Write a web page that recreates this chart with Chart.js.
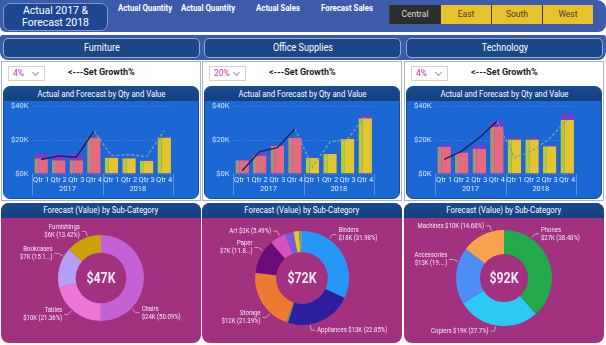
<!DOCTYPE html>
<html>
<head>
<meta charset="utf-8">
<script src="https://cdn.jsdelivr.net/npm/chart.js@4.4.1/dist/chart.umd.min.js"></script>
<style>
  body { margin: 0; width: 606px; height: 345px; background: #fff; overflow: hidden; position: relative;
         font-family: Roboto, "Open Sans", sans-serif; }
  .abs { position: absolute; box-sizing: border-box; }
  .cond { display: inline-block; transform: scaleX(0.86); white-space: nowrap; }
  #top { left: 0; top: 0; width: 606px; height: 32px; background: #3c5cab; border-radius: 0 9px 8px 6px; }
  #title { left: 3px; top: 3px; width: 105px; height: 28px; background: #1d4891; border: 1px solid #7d98cc;
           border-radius: 7px; color: #fff; font-size: 10.5px; line-height: 12px; text-align: center; padding-top: 1px; }
  .hlab { top: 3px; color: #fff; font-size: 8.5px; font-weight: bold; transform: translateX(-50%) scaleX(0.92); white-space: nowrap; }
  #slicer { left: 389px; top: 5px; height: 19px; display: flex; }
  #slicer div { width: 51px; height: 19px; line-height: 19px; text-align: center; font-size: 8.5px;
                background: #e6c22d; color: #4a4020; border-left: 1px solid #3a3a3a; box-sizing: border-box; }
  #slicer div.on { background: #2d2d2d; color: #ddd; }
  #band { left: 0; top: 35px; width: 606px; height: 25px; background: #3c5cab; border-radius: 3px 3px 8px 8px; }
  .cat { top: 38px; height: 20px; background: #1c4787; border: 1px solid #91a8d3; border-radius: 5px;
         color: #fff; font-size: 10.5px; line-height: 18px; text-align: center; }
  .panel { top: 61px; height: 140px; border: 1px solid #a7b2c6; background: #fff; }
  .pick { top: 66px; width: 37px; height: 15px; border: 1px solid #d3d3d3; color: #c8329b; font-size: 8.5px;
          line-height: 13px; padding-left: 4px; }
  .pick i { position: absolute; right: 6px; top: 3px; width: 4px; height: 4px; border-right: 1px solid #999;
            border-bottom: 1px solid #999; transform: rotate(45deg); }
  .hint { top: 67px; color: #222; font-size: 9px; font-weight: bold; white-space: nowrap; }
  .card { top: 86px; width: 196px; height: 113px; background: #1b67d3; border: 1px solid #1b4a93;
          border-radius: 7px; overflow: hidden; }
  .card .bar, .dn .bar { position: relative; z-index: 0; height: 14px; background: linear-gradient(#1a4a8e, #14407f);
          color: #fff; font-size: 9px; line-height: 14px; text-align: center; }
  .card canvas { position: relative; z-index: 1; margin-top: -3px; }
  .dn { top: 203px; width: 200px; height: 140px; background: #a2317f; border-radius: 8px; overflow: hidden; }
  .dn .bar { height: 15px; line-height: 15px; }
  canvas { display: block; }
</style>
</head>
<body>
<div id="top" class="abs"></div>
<div id="title" class="abs">Actual 2017 &amp;<br>Forecast 2018</div>
<div id="slicer" class="abs"></div>
<div id="band" class="abs"></div>

<script>
const headerLabels = ['Actual Quantity', 'Actual Quantity', 'Actual Sales', 'Forecast Sales'];
const regions = ['Central', 'East', 'South', 'West'];
const categories = ['Furniture', 'Office Supplies', 'Technology'];
const growthPicks = ['4%', '20%', '4%'];
const quarters = ['Qtr 1', 'Qtr 2', 'Qtr 3', 'Qtr 4', 'Qtr 1', 'Qtr 2', 'Qtr 3', 'Qtr 4'];
const years = ['2017', '2018'];

// quarterly sales in $K: 2017 actual, 2018 forecast
const furnitureSales = [9.4, 8.1, 8.1, 21.6, 9.6, 9.4, 7.9, 21.6];
const furnitureValue = [12.0, 11.6, 11.6, 21.8, 9.8, 9.6, 8.1, 21.8];
const furnitureQty2017 = [8.6, 10.7, 10.0, 25.4];
const furnitureQty2018 = [10.9, 11.5, 10.3, 25.5];

const officeSales = [8.2, 10.9, 16.6, 21.5, 9.5, 11.8, 20.8, 33.0];
const officeValue = [8.4, 12.4, 17.0, 21.7, 9.8, 12.0, 21.0, 34.7];
const officeQty2017 = [1.9, 13.3, 15.6, 26.7];
const officeQty2018 = [4.2, 19.0, 20.6, 34.3];

const techSales = [16.2, 12.7, 15.0, 27.9, 20.4, 20.4, 16.5, 32.1];
const techValue = [17.1, 13.0, 17.1, 31.2, 21.5, 21.5, 16.8, 35.4];
const techQty2017 = [8.7, 13.5, 21.5, 31.2];
const techQty2018 = [9.6, 13.8, 21.0, 32.1];

// forecast value by sub-category: share %, $K
const furnitureSubs = ['Chairs', 'Tables', 'Bookcases', 'Furnishings'];
const furnitureShare = [50.09, 21.36, 15.13, 13.42];
const furnitureSubK = [24, 10, 7, 6];

const officeSubs = ['Binders', 'Appliances', 'Fasteners', 'Storage', 'Paper', 'Art', 'Supplies', 'Envelopes', 'Labels'];
const officeShare = [31.98, 22.85, 0.55, 21.39, 11.84, 5.49, 3.0, 1.9, 1.0];
const officeSubK = [18, 13, 0.3, 12, 7, 3, 1.7, 1.1, 0.6];

const techSubs = ['Phones', 'Copiers', 'Accessories', 'Machines'];
const techShare = [38.48, 27.7, 19.14, 14.68];
const techSubK = [27, 19, 13, 10];

const forecastTotals = ['$47K', '$72K', '$92K'];

// ---------- static frame ----------
const headerX = [145, 208, 278, 347];
headerLabels.forEach((t, i) => {
  const d = document.createElement('div');
  d.className = 'abs hlab'; d.style.left = headerX[i] + 'px'; d.textContent = t;
  document.body.appendChild(d);
});
const slicer = document.getElementById('slicer');
regions.forEach((r, i) => {
  const d = document.createElement('div');
  if (i === 0) d.className = 'on';
  d.textContent = r;
  slicer.appendChild(d);
});

const colLeft = [1, 202, 404];
const colWidth = [200, 200, 200];
categories.forEach((c, i) => {
  const x = colLeft[i];
  document.body.insertAdjacentHTML('beforeend', `
    <div class="abs cat" style="left:${x + 2}px;width:${colWidth[i] - 3}px"><span class="cond">${c}</span></div>
    <div class="abs panel" style="left:${x}px;width:${colWidth[i]}px"></div>
    <div class="abs pick" style="left:${x + 7}px">${growthPicks[i]}<i></i></div>
    <div class="abs hint" style="left:${x + 67}px">&lt;---Set Growth%</div>
    <div class="abs card" style="left:${x + 2}px">
      <div class="bar"><span class="cond">Actual and Forecast by Qty and Value</span></div>
      <canvas id="q${i}" width="194" height="101"></canvas>
    </div>
    <div class="abs dn" style="left:${x}px">
      <div class="bar"><span class="cond">Forecast (Value) by Sub-Category</span></div>
      <canvas id="d${i}" width="200" height="125"></canvas>
    </div>`);
});

// ---------- charts ----------
const FONT = 'Roboto, "Open Sans", sans-serif';
Chart.defaults.font.family = FONT;
Chart.defaults.animation = false;

const yearDividers = {
  id: 'yearDividers',
  afterDraw(chart) {
    const x = chart.scales.x, ctx = chart.ctx;
    const mid = (x.getPixelForValue(3) + x.getPixelForValue(4)) / 2;
    ctx.save();
    ctx.strokeStyle = 'rgba(255,255,255,0.28)';
    ctx.lineWidth = 1;
    [x.left, mid, x.right].forEach(px => {
      ctx.beginPath();
      ctx.moveTo(Math.round(px) + 0.5, chart.chartArea.bottom);
      ctx.lineTo(Math.round(px) + 0.5, chart.height - 4);
      ctx.stroke();
    });
    ctx.restore();
  }
};

function quarterChart(id, sales, value, qty17, qty18) {
  const fill = sales.map((v, i) => i < 4 ? '#e56a80' : '#e2c630');
  const edge = sales.map((v, i) => i < 4 ? '#a8907a' : '#a9cf3c');
  const solid = qty17.concat([null, null, null, null]);
  const dashed = [null, null, null, qty17[3]].concat(qty18);
  return new Chart(document.getElementById(id), {
    data: {
      labels: quarters,
      datasets: [
        { type: 'line', data: solid, borderColor: '#1b1f5c', borderWidth: 1.5, pointRadius: 0, order: 0 },
        { type: 'line', data: dashed, borderColor: '#7aa59c', borderWidth: 1.3, borderDash: [3, 2], pointRadius: 0, order: 0 },
        { type: 'bar', data: sales, backgroundColor: fill, borderColor: edge,
          borderWidth: { left: 4, right: 0, top: 0, bottom: 0 }, borderSkipped: false,
          grouped: false, categoryPercentage: 0.8, barPercentage: 0.96, order: 1 },
        { type: 'bar', data: value, backgroundColor: '#7a3ccc',
          grouped: false, categoryPercentage: 0.8, barPercentage: 0.96, order: 2 }
      ]
    },
    options: {
      responsive: false,
      layout: { padding: { left: 3, right: 25, top: 0, bottom: 6 } },
      plugins: { legend: { display: false }, tooltip: { enabled: false } },
      scales: {
        x: {
          ticks: { color: '#e4ecff', font: { size: 7.5 }, padding: 2, maxRotation: 0, autoSkip: false },
          grid: { display: false, drawTicks: false }, border: { display: false },
          afterFit: s => { s.height = 9; }
        },
        x2: {
          type: 'category', labels: years, position: 'bottom', offset: true,
          ticks: { color: '#e4ecff', font: { size: 7.5 }, padding: 2, autoSkip: false },
          grid: { display: false, drawTicks: false }, border: { display: false },
          afterFit: s => { s.height = 10; }
        },
        y: {
          min: 0, max: 40,
          ticks: { stepSize: 20, color: '#d8e4ff', font: { size: 7.5 }, padding: 4, callback: v => '$' + v + 'K' },
          grid: { color: 'rgba(255,255,255,0.22)', drawTicks: false },
          border: { display: false, dash: [1, 2] }
        }
      }
    },
    plugins: [yearDividers]
  });
}

quarterChart('q0', furnitureSales, furnitureValue, furnitureQty2017, furnitureQty2018);
quarterChart('q1', officeSales, officeValue, officeQty2017, officeQty2018);
quarterChart('q2', techSales, techValue, techQty2017, techQty2018);

// narrow text: squeeze horizontally around the anchor point
function squeezeText(ctx, t, x, y, k) {
  ctx.save();
  ctx.translate(x, y);
  ctx.scale(k, 1);
  ctx.fillText(t, 0, 0);
  ctx.restore();
}

// leader-line labels and the total in the hole
function donutLabels(center, items) {
  return {
    id: 'donutLabels',
    afterDatasetsDraw(chart) {
      const arcs = chart.getDatasetMeta(0).data;
      const cx = arcs[0].x, cy = arcs[0].y, R = arcs[0].outerRadius;
      const ctx = chart.ctx;
      ctx.save();
      ctx.fillStyle = '#f7e9f4';
      ctx.textAlign = 'center'; ctx.textBaseline = 'middle';
      ctx.font = 'bold 14px ' + FONT;
      squeezeText(ctx, center, cx, cy + 1, 0.88);
      ctx.font = '7.5px ' + FONT;
      ctx.strokeStyle = '#dcb6d4'; ctx.lineWidth = 0.8;
      items.forEach(it => {
        if (!it) return;
        const a = it.at * Math.PI / 180;
        const dx = Math.sin(a), dy = -Math.cos(a);
        const x1 = cx + dx * (R + 6), y1 = cy + dy * (R + 6);
        const right = dx >= 0;
        const x2 = x1 + (right ? 4 : -4);
        ctx.beginPath();
        ctx.moveTo(cx + dx * (R + 1), cy + dy * (R + 1));
        ctx.lineTo(x1, y1);
        ctx.lineTo(x2, y1);
        ctx.stroke();
        ctx.textAlign = right ? 'left' : 'right';
        const tx = x2 + (right ? 2 : -2);
        it.lines.forEach((t, j) => squeezeText(ctx, t, tx, y1 + (j - (it.lines.length - 1) / 2) * 8, 0.8));
      });
      ctx.restore();
    }
  };
}

function labelLines(names, share, k, layout) {
  return names.map((n, i) => {
    const l = layout[i];
    if (!l) return null;
    let pct = String(share[i]);
    pct = l.cut ? pct.slice(0, l.cut) + '...' : pct + '%';
    const val = '$' + k[i] + 'K (' + pct + ')';
    return { at: l.at, lines: l.wrap ? [n, val] : [n + ' ' + val] };
  });
}

function donut(id, names, share, k, colors, layout, center, cutout, pad) {
  return new Chart(document.getElementById(id), {
    type: 'doughnut',
    data: { labels: names, datasets: [{ data: share, backgroundColor: colors, borderWidth: 0 }] },
    options: {
      responsive: false, cutout: cutout,
      layout: { padding: { top: pad[0], bottom: pad[1] } },
      plugins: { legend: { display: false }, tooltip: { enabled: false } }
    },
    plugins: [donutLabels(center, labelLines(names, share, k, layout))]
  });
}

donut('d0', furnitureSubs, furnitureShare, furnitureSubK,
  ['#c462d5', '#ee74d5', '#b89df5', '#c9a20b'],
  [{ at: 135, wrap: true }, { at: 222, wrap: true }, { at: 300, wrap: true, cut: 4 }, { at: 342, wrap: true }],
  forecastTotals[0], '59%', [17, 22]);

donut('d1', officeSubs, officeShare, officeSubK,
  ['#2597f6', '#2b1f9f', '#3aa655', '#ec7a31', '#6a0c79', '#d451be', '#7b59d9', '#cdd22b', '#8c8a9c'],
  [{ at: 35, wrap: true }, { at: 170 }, null, { at: 222, wrap: true }, { at: 305, wrap: true, cut: 4 }, { at: 332 }, null, null, null],
  forecastTotals[1], '55%', [13, 18]);

donut('d2', techSubs, techShare, techSubK,
  ['#22a94b', '#2ec8f5', '#4c8df6', '#f7a34d'],
  [{ at: 35, wrap: true }, { at: 190 }, { at: 290, wrap: true, cut: 3 }, { at: 345 }],
  forecastTotals[2], '50%', [12, 17]);
</script>
</body>
</html>
